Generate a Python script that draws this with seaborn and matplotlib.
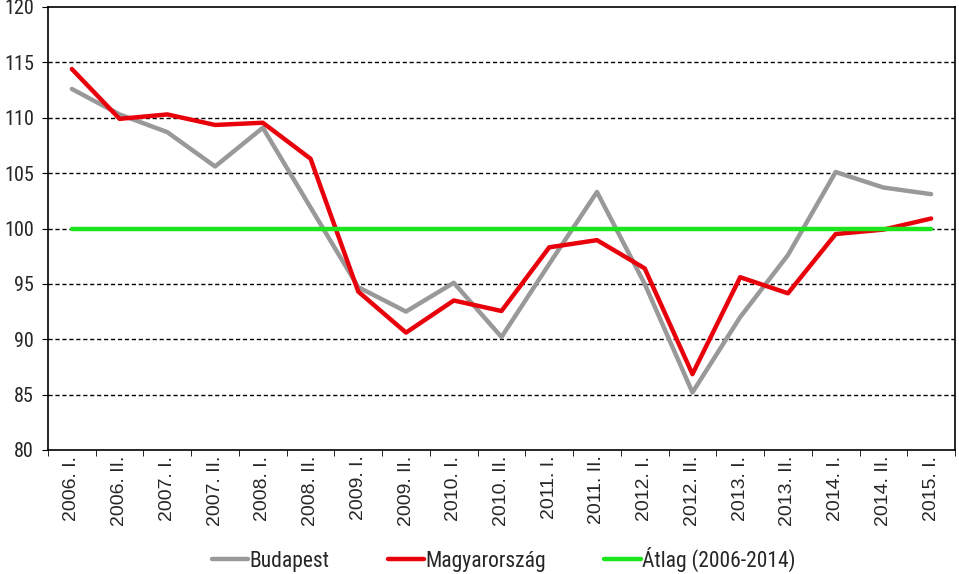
import matplotlib
matplotlib.use("Agg")
import matplotlib.pyplot as plt
import seaborn as sns
import pandas as pd
import numpy as np
from matplotlib import font_manager
from matplotlib.font_manager import FontProperties
from matplotlib.lines import Line2D

periods = ["2006. I.", "2006. II.", "2007. I.", "2007. II.", "2008. I.", "2008. II.",
           "2009. I.", "2009. II.", "2010. I.", "2010. II.", "2011. I.", "2011. II.",
           "2012. I.", "2012. II.", "2013. I.", "2013. II.", "2014. I.", "2014. II.", "2015. I."]
budapest = [112.6, 110.3, 108.7, 105.6, 109.1, 101.9, 94.7, 92.5, 95.1, 90.2,
            96.8, 103.3, 95.0, 85.2, 92.0, 97.6, 105.1, 103.7, 103.1]
magyarorszag = [114.4, 109.9, 110.3, 109.35, 109.55, 106.3, 94.3, 90.6, 93.5, 92.55,
                98.3, 98.95, 96.4, 86.85, 95.6, 94.15, 99.5, 99.9, 100.9]
atlag = [100.0] * len(periods)
series_names = ["Budapest", "Magyarország", "Átlag (2006-2014)"]
colors = ["#999999", "#e8000b", "#1de51d"]
yticks = [80, 85, 90, 95, 100, 105, 110, 115, 120]

df = pd.DataFrame({
    "period": periods * 3,
    "idx": list(range(len(periods))) * 3,
    "value": budapest + magyarorszag + atlag,
    "series": [series_names[0]] * len(periods) + [series_names[1]] * len(periods) + [series_names[2]] * len(periods),
})

sns.set_style("white")
plt.rcParams["font.family"] = ["Liberation Sans", "DejaVu Sans"]

cond = None
prefs = ["RobotoCondensed-Regular.ttf", "PT_Sans-Narrow-Web-Regular.ttf"]
files = {f.fname.split("/")[-1]: f.fname for f in font_manager.fontManager.ttflist}
for p in prefs:
    if p in files:
        cond = files[p]
        break
if cond:
    ylab_fp = FontProperties(fname=cond, size=14.5)
    leg_fp = FontProperties(fname=cond, size=15.5)
else:
    ylab_fp = FontProperties(family="Liberation Sans", size=13)
    leg_fp = FontProperties(family="Liberation Sans", size=14)

fig = plt.figure(figsize=(9.59, 5.74), dpi=100)
ax = fig.add_axes([48 / 959, (574 - 450) / 574, 907 / 959, 443 / 574])

for y in yticks[1:-1]:
    ax.axhline(y, color="black", lw=1, ls=(0, (3, 2)), zorder=0)

sns.lineplot(data=df, x="idx", y="value", hue="series", hue_order=series_names,
             palette=colors, linewidth=3.2, ax=ax, legend=False, zorder=3)

ax.set_xlim(-0.5, len(periods) - 0.5)
ax.set_ylim(80, 120)
ax.set_yticks(yticks)
ax.set_yticklabels([str(v) for v in yticks])
for t in ax.get_yticklabels():
    t.set_fontproperties(ylab_fp)
ax.set_xticks(range(len(periods)))
ax.set_xticklabels(periods, rotation=90, fontsize=14)
ax.set_xticks(np.arange(-0.5, len(periods), 1), minor=True)
ax.tick_params(axis="x", which="major", length=0, pad=4)
ax.tick_params(axis="x", which="minor", length=4, color="black", direction="out", bottom=True)
ax.tick_params(axis="y", which="major", length=4, color="black", direction="out", left=True, pad=6)
ax.set_xlabel("")
ax.set_ylabel("")
for s in ax.spines.values():
    s.set_color("black")
    s.set_linewidth(1.2)

handles = [Line2D([], [], color=c, lw=3.2) for c in colors]
fig.legend(handles, series_names, loc="lower center", bbox_to_anchor=(0.525, -0.03), ncol=3,
           frameon=False, prop=leg_fp, handlelength=1.7,
           handletextpad=0.05, columnspacing=2.7)

fig.savefig("out.png", dpi=100)
